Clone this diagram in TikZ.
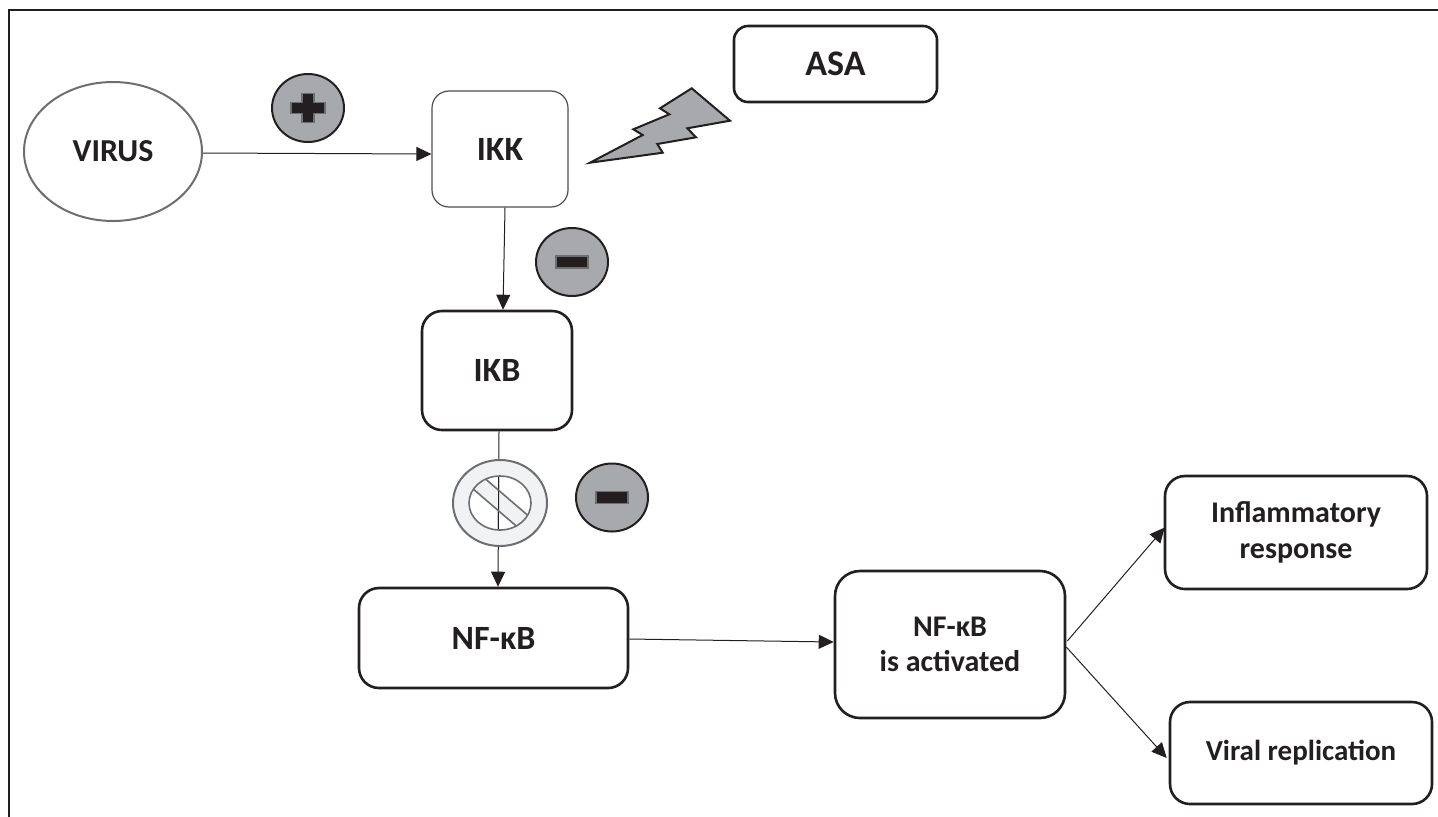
\documentclass[tikz,border=0pt]{standalone}
\usepackage{fontspec}
\setmainfont{Carlito}
\usetikzlibrary{shapes.geometric,arrows.meta,calc}
\definecolor{ink}{HTML}{231F20}
\definecolor{signgray}{HTML}{A7A9AC}
\definecolor{edgegray}{HTML}{6D6E71}
\definecolor{ringfill}{HTML}{F1F2F4}
\begin{document}
\begin{tikzpicture}[x=0.5pt,y=-0.5pt,
  box/.style={draw=ink,line width=1.3pt,rounded corners=10pt,fill=white,inner sep=0pt,
              align=center,text=ink,font=\bfseries\fontsize{17}{20}\selectfont},
  thinbox/.style={box,draw=ink!80,line width=0.6pt,rounded corners=8.5pt},
  smalltext/.style={font=\bfseries\fontsize{15}{18}\selectfont},
  conn/.style={draw=ink,line width=0.5pt},
  arr/.style={conn,-{Triangle[length=7.5pt,width=7pt]}},
  signdisc/.style={ellipse,draw=ink,line width=1pt,fill=signgray,
                   minimum width=36pt,minimum height=34pt,inner sep=0pt},
  signbar/.style={fill=ink,draw=edgegray,line width=0.6pt}
]
\useasboundingbox (0,0) rectangle (1438,816);
% frame
\draw[ink,line width=1pt] (9,830) -- (9,10) -- (1450,10);

% nodes
\node[ellipse,draw=edgegray,line width=1pt,fill=white,minimum width=89pt,minimum height=69.5pt,
      inner sep=0pt,text=ink,font=\bfseries\fontsize{16}{18}\selectfont] (virus) at (113,151.5) {VIRUS};
\node[thinbox,minimum width=68pt,minimum height=58pt] (ikk) at (500,149) {IKK};
\node[box,minimum width=75pt,minimum height=59.5pt] (ikb) at (497,370.5) {IKB};
\node[box,rounded corners=7pt,minimum width=101.5pt,minimum height=38pt,
      font=\bfseries\fontsize{18}{20}\selectfont] (asa) at (835.5,64) {ASA};
\node[box,minimum width=134.5pt,minimum height=50pt] (nfkb) at (493.5,638) {NF-κB};
\node[box,rounded corners=12.5pt,minimum width=115pt,minimum height=73.5pt,
      font=\bfseries\fontsize{15}{17.5}\selectfont] (act) at (950,644.5) {NF-κB\\is activated};
\node[box,smalltext,minimum width=131pt,minimum height=56.5pt] (infl) at (1296,532.5) {Inflammatory\\response};
\node[box,font=\bfseries\fontsize{14.5}{18}\selectfont,minimum width=131pt,minimum height=51pt] (viral) at (1301,753) {Viral replication};

% plus / minus discs
\node[signdisc] (plus) at (308,108) {};
\node[signdisc] (minusA) at (572,262) {};
\node[signdisc] (minusB) at (612,497.5) {};
\path[signbar] ($(plus)+(-17,-5.5)$) -- ++(11,0) -- ++(0,-9) -- ++(12,0) -- ++(0,9)
   -- ++(11,0) -- ++(0,11) -- ++(-11,0) -- ++(0,9) -- ++(-12,0) -- ++(0,-9)
   -- ++(-11,0) -- cycle;
\path[signbar] ($(minusA)+(-16,-6)$) rectangle ($(minusA)+(16,6)$);
\path[signbar] ($(minusB)+(-16,-6)$) rectangle ($(minusB)+(16,6)$);

% lightning
\path[fill=signgray,draw=ink,line width=1pt,line join=miter]
  (590,162.7) -- (642.7,135) -- (633.3,129.3) -- (669.3,114.3) -- (660,108.3) -- (691.7,88.3)
  -- (730,120.7) -- (687.3,128.3) -- (696,137.3) -- (657.3,144) -- (662.7,152.7) -- cycle;

% connectors
\draw[arr] ($(virus.east)+(0,1.5)$) -- ($(ikk.west)+(0,5)$);
\draw[arr] ([xshift=2.5pt]ikk.south) -- ([xshift=3pt]ikb.north);
\draw[arr] ([xshift=1pt]ikb.south) -- ([xshift=2.25pt]nfkb.north);
\draw[arr] ($(nfkb.east)+(0,1)$) -- ($(act.west)+(0,-2.5)$);
\draw[arr] ($(act.east)+(1,-3.5)$) -- ($(infl.west)+(1,-5)$);
\draw[arr] ($(act.east)+(0,2.5)$) -- ($(viral.west)+(-2,5)$);

% prohibition sign over the IKB -> NF-kB connector
\coordinate (stop) at (500,503);
\fill[ringfill,even odd rule] (stop) ellipse [x radius=47,y radius=43]
                               (stop) ellipse [x radius=31,y radius=27];
\draw[edgegray,line width=1pt] (stop) ellipse [x radius=47,y radius=43];
\begin{scope}
  \clip (stop) ellipse [x radius=31,y radius=27];
  \fill[ringfill] ($(stop)+(-60,-42.5)$) -- ($(stop)+(50,52)$) -- ($(stop)+(60,40)$) -- ($(stop)+(-50,-54.5)$) -- cycle;
  \draw[conn] ([xshift=1pt]ikb.south) -- ([xshift=2.25pt]nfkb.north);
  \draw[edgegray,line width=0.8pt] ($(stop)+(-60,-42.5)$) -- ($(stop)+(50,52)$)
                                   ($(stop)+(60,40)$) -- ($(stop)+(-50,-54.5)$);
\end{scope}
\draw[edgegray,line width=0.8pt] (stop) ellipse [x radius=31,y radius=27];
\end{tikzpicture}
\end{document}
